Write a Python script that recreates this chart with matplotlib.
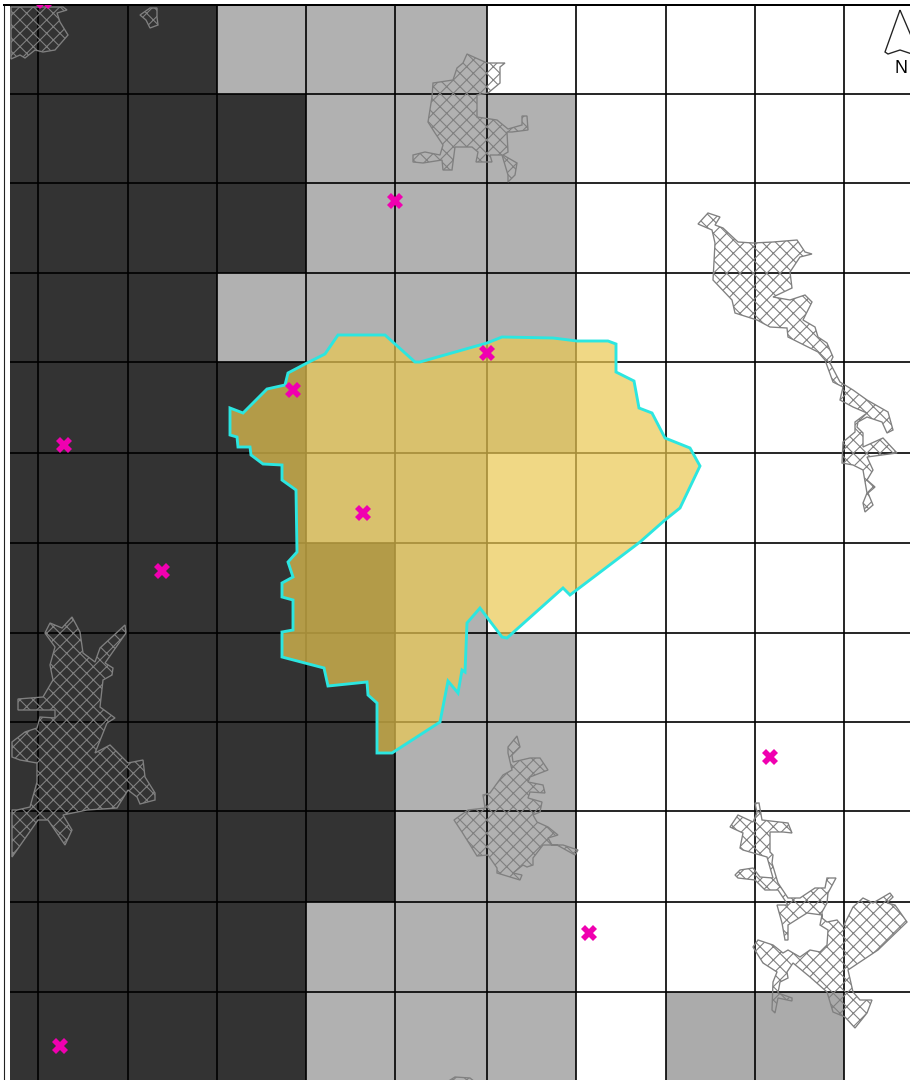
import matplotlib
matplotlib.use("Agg")
import matplotlib.pyplot as plt
from matplotlib.colors import ListedColormap
from matplotlib.patches import Polygon

# grid edges in map units (same as reference pixels)
x_edges = [10, 38, 128, 217, 306, 395, 487, 576, 666, 755, 844, 910]
y_edges = [5, 94, 183, 273, 362, 453, 543, 633, 722, 811, 902, 992, 1080]

# class of every grid cell: 0 none, 1 medium, 2 high, 3 second medium
cells = [
    [2, 2, 2, 1, 1, 1, 0, 0, 0, 0, 0],
    [2, 2, 2, 2, 1, 1, 1, 0, 0, 0, 0],
    [2, 2, 2, 2, 1, 1, 1, 0, 0, 0, 0],
    [2, 2, 2, 1, 1, 1, 1, 0, 0, 0, 0],
    [2, 2, 2, 2, 1, 1, 1, 0, 0, 0, 0],
    [2, 2, 2, 2, 1, 1, 0, 0, 0, 0, 0],
    [2, 2, 2, 2, 2, 1, 0, 0, 0, 0, 0],
    [2, 2, 2, 2, 2, 1, 1, 0, 0, 0, 0],
    [2, 2, 2, 2, 2, 1, 1, 0, 0, 0, 0],
    [2, 2, 2, 2, 2, 1, 1, 0, 0, 0, 0],
    [2, 2, 2, 2, 1, 1, 1, 0, 0, 0, 0],
    [2, 2, 2, 2, 1, 1, 1, 0, 3, 3, 0],
]
cell_colors = ["#ffffff", "#b1b1b1", "#333333", "#ababab"]

# study area outline
study_area = [
    (230, 408), (243, 413), (267, 389), (285, 385), (288, 373), (307, 363), (325, 354), (338, 335),
    (385, 335), (395, 344), (415, 362), (420, 362), (487, 343), (502, 337), (553, 338), (577, 341),
    (608, 341), (616, 344), (616, 372), (634, 381), (639, 408), (652, 413), (665, 438), (690, 448),
    (700, 466), (680, 508), (665, 520), (640, 542), (570, 595), (563, 588), (507, 638), (502, 637),
    (480, 608), (467, 623), (465, 672), (462, 670), (458, 693), (448, 681), (440, 722), (392, 753),
    (377, 753), (377, 703), (368, 695), (367, 682), (328, 686), (324, 668), (282, 657), (282, 632),
    (293, 630), (293, 600), (282, 597), (282, 583), (293, 577), (288, 562), (297, 552), (296, 490),
    (282, 480), (282, 465), (263, 464), (251, 455), (250, 447), (238, 447), (237, 437), (230, 435),
]

# built up areas (hatched)
city_corner = [
    (11, 59), (20, 55), (25, 58), (35, 50), (43, 52), (55, 50), (68, 35), (60, 22), (57, 13),
    (67, 10), (63, 7), (11, 7),
]
city_small = [(140, 15), (150, 8), (157, 8), (157, 17), (158, 25), (150, 28), (146, 20)]
city_north = [
    (467, 54), (487, 63), (505, 63), (500, 67), (500, 83), (488, 93), (477, 95), (477, 117),
    (497, 120), (508, 129), (522, 125), (522, 116), (527, 116), (528, 130), (512, 132), (507, 132),
    (508, 152), (503, 155), (517, 163), (515, 175), (508, 182), (508, 175), (502, 155), (490, 155),
    (492, 162), (476, 162), (478, 152), (472, 147), (455, 147), (452, 170), (443, 170), (442, 160),
    (423, 163), (413, 162), (413, 155), (425, 152), (440, 155), (443, 145), (435, 133), (428, 122),
    (432, 97), (433, 83), (453, 80), (457, 68), (463, 63),
]
city_east = [
    (698, 224), (708, 213), (720, 217), (715, 225), (723, 228), (738, 242), (753, 243), (773, 242),
    (797, 240), (805, 252), (812, 254), (800, 257), (790, 272), (792, 288), (773, 297), (790, 300),
    (805, 295), (812, 302), (803, 320), (815, 327), (818, 337), (827, 343), (833, 357), (830, 363),
    (840, 382), (853, 390), (867, 400), (888, 412), (893, 430), (887, 433), (882, 422), (867, 417),
    (858, 422), (857, 427), (863, 433), (863, 447), (883, 438), (897, 453), (867, 457), (873, 470),
    (867, 480), (875, 487), (868, 493), (873, 505), (865, 512), (863, 503), (867, 493), (863, 470),
    (853, 465), (842, 463), (843, 442), (855, 432), (855, 422), (867, 413), (853, 407), (840, 400),
    (843, 387), (833, 382), (825, 360), (818, 352), (800, 343), (788, 337), (787, 328), (770, 327),
    (757, 320), (735, 313), (732, 300), (713, 280), (715, 243), (712, 230),
]
city_west = [
    (45, 633), (50, 623), (62, 628), (72, 617), (80, 632), (83, 653), (95, 662), (100, 648),
    (125, 625), (126, 633), (105, 663), (113, 668), (112, 675), (103, 680), (100, 707), (115, 718),
    (107, 723), (95, 753), (110, 745), (128, 763), (143, 760), (145, 777), (155, 793), (155, 800),
    (140, 804), (137, 797), (128, 790), (117, 808), (87, 810), (63, 815), (72, 830), (65, 845),
    (48, 820), (38, 820), (12, 857), (12, 810), (17, 810), (30, 807), (37, 782), (37, 763),
    (20, 760), (12, 757), (12, 742), (25, 732), (37, 728), (40, 717), (55, 718), (55, 710),
    (18, 710), (18, 699), (43, 697), (53, 680), (50, 665), (55, 647),
]
city_south = [
    (517, 736), (520, 747), (512, 755), (513, 762), (530, 758), (540, 758), (548, 770), (530, 777),
    (528, 782), (543, 785), (545, 793), (530, 792), (528, 798), (542, 802), (540, 812), (533, 815),
    (537, 822), (548, 827), (558, 835), (548, 838), (552, 845), (563, 845), (578, 850), (575, 855),
    (557, 845), (543, 845), (533, 858), (533, 865), (527, 867), (523, 865), (513, 873), (522, 875),
    (520, 880), (497, 873), (497, 868), (488, 855), (477, 856), (462, 832), (454, 820), (468, 810),
    (485, 808), (483, 795), (490, 793), (503, 775), (512, 770), (508, 753), (508, 747),
]
city_southeast = [
    (755, 803), (759, 803), (762, 820), (788, 823), (792, 833), (783, 832), (770, 832), (770, 852),
    (773, 855), (772, 863), (778, 883), (788, 898), (800, 898), (815, 888), (825, 888), (827, 878),
    (836, 878), (828, 893), (827, 903), (822, 912), (822, 918), (827, 922), (837, 920), (843, 927),
    (853, 907), (863, 898), (873, 903), (890, 893), (893, 897), (887, 903), (895, 905), (907, 922),
    (878, 950), (848, 970), (853, 992), (860, 1000), (872, 1000), (867, 1013), (855, 1028), (845, 1017),
    (833, 1012), (827, 992), (810, 977), (793, 963), (787, 972), (788, 978), (780, 982), (778, 993),
    (792, 998), (792, 1001), (778, 998), (775, 1013), (772, 1010), (773, 982), (777, 972), (763, 963),
    (753, 947), (758, 940), (773, 945), (783, 953), (788, 950), (800, 957), (810, 950), (820, 952),
    (827, 945), (828, 930), (820, 925), (822, 915), (807, 913), (788, 925), (788, 940), (785, 940),
    (782, 923), (777, 905), (788, 905), (778, 890), (765, 890), (755, 880), (738, 878), (735, 875),
    (740, 870), (753, 868), (760, 877), (773, 878), (767, 857), (743, 850), (740, 848), (743, 833),
    (730, 827), (738, 815), (753, 822), (757, 813),
]
city_bottom = [(447, 1082), (455, 1077), (470, 1078), (475, 1082)]
cities = [city_corner, city_small, city_north, city_east, city_west, city_south, city_southeast, city_bottom]

# sample points
point_x = [44, 395, 487, 293, 64, 363, 162, 770, 589, 60]
point_y = [1, 201, 353, 390, 445, 513, 571, 757, 933, 1046]

# north arrow outline
north_arrow = [(900, 10), (885, 52), (888, 54), (900, 50), (912, 54), (912, 38)]

DPI = 80
plt.rcParams["font.family"] = ["Liberation Sans", "DejaVu Sans"]
plt.rcParams["hatch.color"] = "#808080"
plt.rcParams["hatch.linewidth"] = 1.0

fig = plt.figure(figsize=(910 / DPI, 1080 / DPI), dpi=DPI)
ax = fig.add_axes([3.5 / 910, 0, 906.5 / 910, 1075 / 1080])
ax.set_xlim(3.5, 910)
ax.set_ylim(1080, 5)
ax.set_xticks([])
ax.set_yticks([])

# grid cells
cmap = ListedColormap(cell_colors)
ax.pcolormesh(x_edges, y_edges, cells, cmap=cmap, vmin=-0.5, vmax=3.5, zorder=1)

# grid lines
ax.vlines(x_edges[1:-1], y_edges[0], y_edges[-1], color="black", lw=1.5, zorder=2)
ax.hlines(y_edges[1:-1], x_edges[0], x_edges[-1], color="black", lw=1.5, zorder=2)

# built up areas
for city in cities:
    ax.add_patch(Polygon(city, closed=True, fill=False, edgecolor="#808080", lw=1.2, hatch="xx", zorder=3))

# study area, transparent fill then solid outline
ax.add_patch(Polygon(study_area, closed=True, facecolor="#ebc851", edgecolor="none", alpha=0.7, zorder=4))
ax.add_patch(Polygon(study_area, closed=True, fill=False, edgecolor="#2ce6e0", lw=2.6, zorder=5))

# sample points
ax.plot(point_x, point_y, linestyle="none", marker="X", markersize=14, color="#f000b0", markeredgewidth=0, zorder=6)

# north arrow
ax.add_patch(Polygon(north_arrow, closed=True, fill=False, edgecolor="#222222", lw=1.2, zorder=7))
ax.text(901, 68.5, "N", ha="center", va="center", fontsize=16, color="black", zorder=7)

# frame
for side in ["right", "bottom"]:
    ax.spines[side].set_visible(False)
ax.spines["top"].set_linewidth(1.8)
ax.spines["left"].set_linewidth(1.0)
ax.spines["left"].set_color("#222222")

fig.savefig("out.png", dpi=DPI, facecolor="white")
